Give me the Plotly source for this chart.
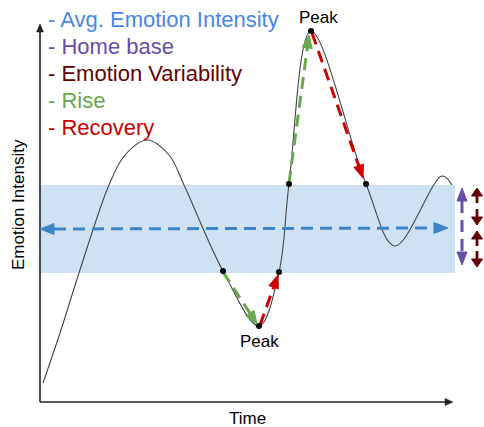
import math
import plotly.graph_objects as go

W, H = 484, 427
FONT = "Liberation Sans, Arial, sans-serif"

# ---- colours
BLUE_TXT = "#4a86e8"
BLUE_ARROW = "#3d85c6"
PURPLE = "#674ea7"
BROWN = "#660000"
GREEN = "#6aa84f"
RED = "#cc0000"
BAND = "#cfe2f3"
CURVE = "#444444"
AXIS = "#222222"

# ---- sketch data (diagram coordinates: x = time, y = position on the sheet, down is low intensity)
curve_x = [43, 61, 79, 109, 125, 147, 169, 184, 223, 259, 279, 289, 311, 366, 395, 442, 452]
curve_y = [383, 330, 273, 185, 155, 140, 155, 185, 271, 326, 272, 184, 31, 184, 246, 176, 185]

dots_x = [223, 259, 279, 289, 311, 366]
dots_y = [271, 326, 272, 184, 31, 184]

band_x = [40, 455]
band_y = [185, 273]

axis_origin = (40, 402)
axis_y_top = 24
axis_x_right = 453

legend_labels = ["- Avg. Emotion Intensity", "- Home base", "- Emotion Variability", "- Rise", "- Recovery"]
legend_colors = [BLUE_TXT, PURPLE, BROWN, GREEN, RED]
legend_y = [19, 46, 73, 100, 127]

peak_labels_x = [318, 259]
peak_labels_y = [17, 341]

# dashed arrows: start, end, colour, heads at (start, end)
dash_start_x = [40, 462, 223, 260, 289, 312]
dash_start_y = [229, 188, 272, 325, 183, 33]
dash_end_x = [448, 462, 257, 278, 309, 363]
dash_end_y = [228, 265, 324, 275, 35, 178]
dash_colors = [BLUE_ARROW, PURPLE, GREEN, RED, GREEN, RED]
dash_heads = [(True, True), (True, True), (False, True), (False, True), (False, True), (False, True)]

# small solid variability arrows
var_x = 477
var_tail_y = [203, 209, 246, 251]
var_tip_y = [188, 225, 231, 267]


def head(tail, tip, length, width):
    dx, dy = tip[0] - tail[0], tip[1] - tail[1]
    d = math.hypot(dx, dy)
    ux, uy = dx / d, dy / d
    bx, by = tip[0] - ux * length, tip[1] - uy * length
    px, py = -uy, ux
    xs = [tip[0], bx + px * width / 2, bx - px * width / 2, tip[0]]
    ys = [tip[1], by + py * width / 2, by - py * width / 2, tip[1]]
    return xs, ys, (bx, by)


fig = go.Figure()

# band
fig.add_shape(type="rect", x0=band_x[0], x1=band_x[1], y0=band_y[0], y1=band_y[1],
              fillcolor=BAND, line_width=0, layer="below")

# axes of the sketch
fig.add_trace(go.Scatter(x=[axis_origin[0], axis_origin[0]], y=[axis_origin[1], axis_y_top + 6],
                         mode="lines", line=dict(color=AXIS, width=1.6), hoverinfo="skip"))
fig.add_trace(go.Scatter(x=[axis_origin[0], axis_x_right - 6], y=[axis_origin[1], axis_origin[1]],
                         mode="lines", line=dict(color=AXIS, width=1.6), hoverinfo="skip"))
for tip in [(axis_origin[0], axis_y_top), (axis_x_right, axis_origin[1])]:
    hx, hy, _ = head(axis_origin, tip, 8, 7)
    fig.add_trace(go.Scatter(x=hx, y=hy, mode="lines", fill="toself", fillcolor=AXIS,
                             line=dict(color=AXIS, width=0.5), hoverinfo="skip"))

# curve
fig.add_trace(go.Scatter(x=curve_x, y=curve_y, mode="lines",
                         line=dict(color=CURVE, width=1.1, shape="spline", smoothing=1.0),
                         hoverinfo="skip"))

# dashed arrows
for i in range(len(dash_start_x)):
    s = (dash_start_x[i], dash_start_y[i])
    e = (dash_end_x[i], dash_end_y[i])
    c = dash_colors[i]
    hs, he = dash_heads[i]
    hl, hw = (14, 11) if i == 0 else (13, 10)
    p0, p1 = s, e
    if he:
        hx, hy, p1 = head(s, e, hl, hw)
        fig.add_trace(go.Scatter(x=hx, y=hy, mode="lines", fill="toself", fillcolor=c,
                                 line=dict(color=c, width=1), hoverinfo="skip"))
    if hs:
        hx, hy, p0 = head(e, s, hl, hw)
        fig.add_trace(go.Scatter(x=hx, y=hy, mode="lines", fill="toself", fillcolor=c,
                                 line=dict(color=c, width=1), hoverinfo="skip"))
    fig.add_trace(go.Scatter(x=[p0[0], p1[0]], y=[p0[1], p1[1]], mode="lines",
                             line=dict(color=c, width=3, dash="12px,7px"), hoverinfo="skip"))

# variability arrows
for ty, hy_ in zip(var_tail_y, var_tip_y):
    hx, hy, b = head((var_x, ty), (var_x, hy_), 8, 11)
    fig.add_trace(go.Scatter(x=[var_x, b[0]], y=[ty, b[1]], mode="lines",
                             line=dict(color=BROWN, width=2.8), hoverinfo="skip"))
    fig.add_trace(go.Scatter(x=hx, y=hy, mode="lines", fill="toself", fillcolor=BROWN,
                             line=dict(color=BROWN, width=1), hoverinfo="skip"))

# key dots
fig.add_trace(go.Scatter(x=dots_x, y=dots_y, mode="markers",
                         marker=dict(color="black", size=6), hoverinfo="skip"))

# texts
for lab, col, y in zip(legend_labels, legend_colors, legend_y):
    fig.add_annotation(x=46, y=y, text=lab, showarrow=False, xanchor="left", yanchor="middle",
                       font=dict(family=FONT, size=22, color=col))
for px_, py_ in zip(peak_labels_x, peak_labels_y):
    fig.add_annotation(x=px_, y=py_, text="Peak", showarrow=False, xanchor="center",
                       yanchor="middle", font=dict(family=FONT, size=17, color="black"))
fig.add_annotation(x=247, y=418, text="Time", showarrow=False, xanchor="center", yanchor="middle",
                   font=dict(family=FONT, size=17, color="black"))
fig.add_annotation(x=18, y=205, text="Emotion Intensity", showarrow=False, textangle=-90,
                   xanchor="center", yanchor="middle", font=dict(family=FONT, size=17, color="black"))

fig.update_layout(
    width=W, height=H, margin=dict(l=0, r=0, t=0, b=0), autosize=False,
    showlegend=False, paper_bgcolor="white", plot_bgcolor="white",
    xaxis=dict(range=[0, W], visible=False, fixedrange=True),
    yaxis=dict(range=[H, 0], visible=False, fixedrange=True),
)

fig.write_html("out.html", config={"displayModeBar": False, "staticPlot": True},
               post_script="document.body.style.margin='0';document.body.style.overflow='hidden';")
